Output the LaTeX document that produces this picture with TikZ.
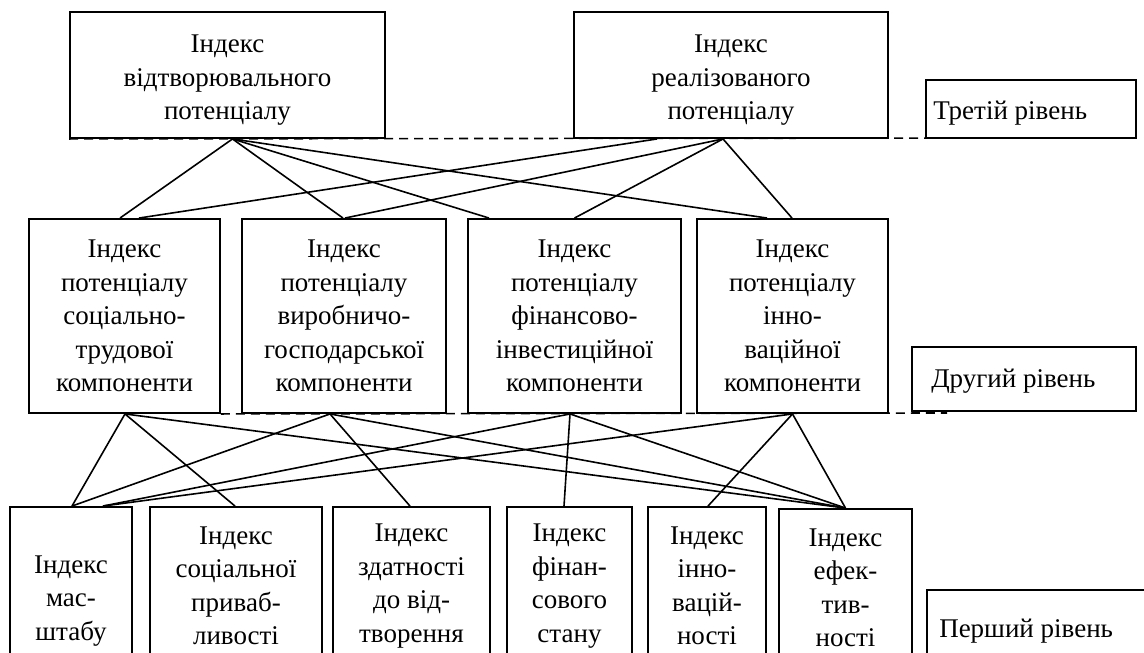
\documentclass[tikz,border=0pt]{standalone}
\usepackage{fontspec}
\setmainfont{Liberation Serif}
\begin{document}
\begin{tikzpicture}[x=1pt,y=-1pt,
  box/.style={draw, line width=1.9pt, inner sep=0pt, align=center, font=\fontsize{27}{33.5}\selectfont},
  txt/.style={inner sep=0pt, align=center, font=\fontsize{27}{33.5}\selectfont},
  link/.style={line width=1.6pt},
  lvl/.style={line width=1.6pt, dash pattern=on 9pt off 6pt}]
\useasboundingbox (0,0) rectangle (1144,653);
\clip (0,0) rectangle (1144,653);

% third level
\node[box, minimum width=315pt, minimum height=126pt] (A) at (227.5,75) {};
\node[txt] (tA) at ([yshift=-5.5pt]A.center) {Індекс\\відтворювального\\потенціалу};
\node[box, minimum width=314pt, minimum height=126pt] (B) at (731,75) {};
\node[txt] (tB) at ([yshift=-5.5pt]B.center) {Індекс\\реалізованого\\потенціалу};
\node[box, minimum width=210pt, minimum height=58pt] (L3) at (1031,109) {};
\node[txt, anchor=west] (tL3) at ([xshift=8pt,yshift=-4pt]L3.west) {Третій рівень};
\coordinate (t3end) at (988,138);

% second level
\node[box, minimum width=191pt, minimum height=194pt] (m1) at (124.5,316) {Індекс\\потенціалу\\соціально-\\трудової\\компоненти};
\node[box, minimum width=204pt, minimum height=194pt] (m2) at (344,316) {Індекс\\потенціалу\\виробничо-\\господарської\\компоненти};
\node[box, minimum width=213pt, minimum height=194pt] (m3) at (574.5,316) {Індекс\\потенціалу\\фінансово-\\інвестиційної\\компоненти};
\node[box, minimum width=191pt, minimum height=194pt] (m4) at (792.5,316) {Індекс\\потенціалу\\інно-\\ваційної\\компоненти};
\node[box, minimum width=224pt, minimum height=64pt] (L2) at (1024,379) {};
\node[txt, anchor=west] (tL2) at ([xshift=20pt,yshift=-2pt]L2.west) {Другий рівень};
\coordinate (t2end) at (947,413);

% first level
\node[box, minimum width=122pt, minimum height=188pt] (b1) at (71,601) {Індекс\\мас-\\штабу};
\node[box, minimum width=172pt, minimum height=158pt] (b2) at (236,586) {Індекс\\соціальної\\приваб-\\ливості};
\node[box, minimum width=157pt, minimum height=158pt] (b3) at (411.5,586) {Індекс\\здатності\\до від-\\творення};
\node[box, minimum width=125pt, minimum height=158pt] (b4) at (569.5,586) {Індекс\\фінан-\\сового\\стану};
\node[box, minimum width=118pt, minimum height=158pt] (b5) at (707,586) {Індекс\\інно-\\вацій-\\ності};
\node[box, minimum width=133pt, minimum height=158pt] (b6) at (845.5,588) {Індекс\\ефек-\\тив-\\ності};
\node[box, minimum width=233pt, minimum height=76pt] (L1) at (1043.5,628) {};
\node[txt, anchor=west] (tL1) at ([xshift=13pt,yshift=-3pt]L1.west) {Перший рівень};

% level lines
\draw[lvl] (A.south west) -- (t3end);
\draw[lvl] (m1.south east) -- (t2end);

% third -> second
\draw[link] ([xshift=5pt]A.south) -- ([xshift=-4.5pt]m1.north);
\draw[link] ([xshift=5pt]A.south) -- ([xshift=-1pt]m2.north);
\draw[link] ([xshift=5pt]A.south) -- ([xshift=-85.5pt]m3.north);
\draw[link] ([xshift=5pt]A.south) -- ([xshift=-25.5pt]m4.north);
\draw[link] ([xshift=-74pt]B.south) -- ([xshift=14.5pt]m1.north);
\draw[link] ([xshift=-8pt]B.south) -- ([xshift=1pt]m2.north);
\draw[link] ([xshift=-8pt]B.south) -- (m3.north);
\draw[link] ([xshift=-8pt]B.south) -- ([xshift=-0.5pt]m4.north);

% second -> first
\draw[link] ([xshift=0.5pt]m1.south) -- ([xshift=1pt]b1.north);
\draw[link] ([xshift=0.5pt]m1.south) -- ([xshift=-1pt]b2.north);
\draw[link] ([xshift=0.5pt]m1.south) -- (b6.north);
\draw[link] ([xshift=-14pt]m2.south) -- ([xshift=1pt]b1.north);
\draw[link] ([xshift=-14pt]m2.south) -- ([xshift=-1.5pt]b3.north);
\draw[link] ([xshift=-14pt]m2.south) -- (b6.north);
\draw[link] ([xshift=-4.5pt]m3.south) -- ([xshift=32pt]b1.north);
\draw[link] ([xshift=-4.5pt]m3.south) -- ([xshift=-5.5pt]b4.north);
\draw[link] ([xshift=-4.5pt]m3.south) -- (b6.north);
\draw[link] (m4.south) -- ([xshift=32pt]b1.north);
\draw[link] (m4.south) -- ([xshift=1pt]b5.north);
\draw[link] (m4.south) -- (b6.north);
\end{tikzpicture}
\end{document}
